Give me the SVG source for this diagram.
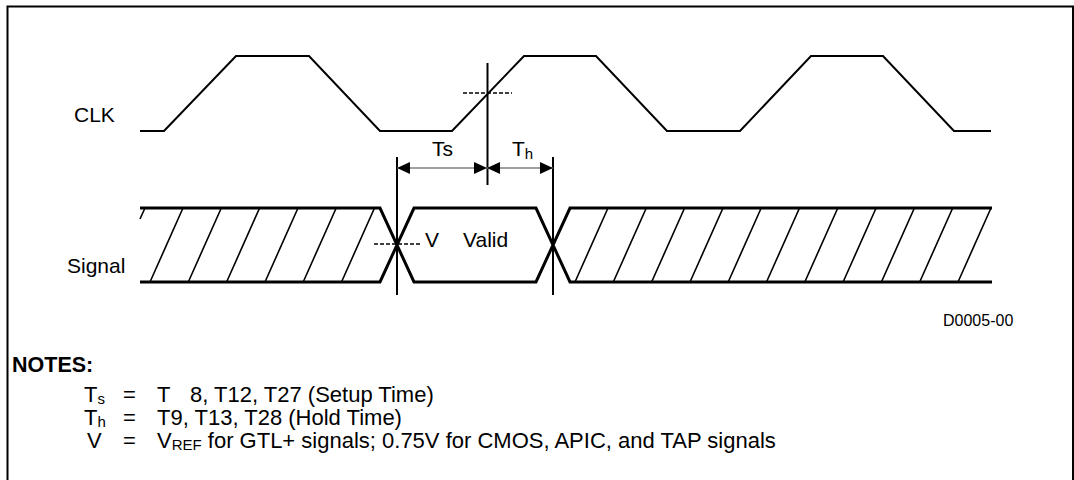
<svg xmlns="http://www.w3.org/2000/svg" width="1074" height="480" viewBox="0 0 1074 480">
<style>
text{font-family:"Liberation Sans",Arial,sans-serif;fill:#000}
.lbl{font-size:21px}
.note{font-size:22px}
.sub{font-size:15px}
.wave{fill:none;stroke:#000;stroke-width:2}
.bus{fill:none;stroke:#000;stroke-width:3}
.hatch{fill:none;stroke:#000;stroke-width:1.6}
.vl{stroke:#000;stroke-width:2}
.dash{stroke:#000;stroke-width:1.5;stroke-dasharray:4 2}
.dim{stroke:#7f7f7f;stroke-width:1.5}
</style>
<defs>
<marker id="ah" viewBox="0 0 13 12" refX="13" refY="6" markerWidth="13" markerHeight="12" markerUnits="userSpaceOnUse" orient="auto-start-reverse">
<path d="M0,0 L13,6 L0,12 Z" fill="#000"/>
</marker>
</defs>
<path d="M7.5,482 V6.5 H1073 V482" fill="none" stroke="#000" stroke-width="2"/>
<g id="clk">
<text class="lbl" x="74" y="122">CLK</text>
<path class="wave" d="M140,131 H164 L236,56 H309 L380,131 H452 L524,56 H596 L667,131 H740 L811,56 H883 L954,131 H991"/>
</g>
<g id="signal">
<text class="lbl" x="67" y="273">Signal</text>
<path class="bus" d="M140,208 H380 L414,282 H536 L570,208 H992 M140,282 H380 L414,208 H536 L570,282 H992"/>
<path class="hatch" d="M145,208 L140,219 M150,282 L183,208 M188.3,282 L221.3,208 M226.6,282 L259.6,208 M265,282 L298,208 M303.2,282 L336.2,208 M341.5,282 L374.5,208 M575,282 L608,208 M613.3,282 L646.3,208 M651.6,282 L684.6,208 M690,282 L723,208 M728.2,282 L761.2,208 M766.5,282 L799.5,208 M804.8,282 L837.8,208 M843.1,282 L876.1,208 M881.4,282 L914.4,208 M919.7,282 L952.7,208 M958,282 L991,208"/>
<text class="lbl" x="425" y="247">V</text>
<text class="lbl" x="463" y="247">Valid</text>
</g>
<g id="connectors">
<line class="vl" x1="487.5" y1="63" x2="487.5" y2="185"/>
<line class="vl" x1="397" y1="157" x2="397" y2="295"/>
<line class="vl" x1="553" y1="157" x2="553" y2="295"/>
<line class="dash" x1="463" y1="93" x2="512" y2="93"/>
<line class="dash" x1="374" y1="244" x2="420" y2="244"/>
<line class="dim" x1="397" y1="168" x2="487" y2="168" marker-start="url(#ah)" marker-end="url(#ah)"/>
<line class="dim" x1="487" y1="168" x2="553" y2="168" marker-start="url(#ah)" marker-end="url(#ah)"/>
</g>
<g id="labels">
<text class="lbl" x="432" y="156">Ts</text>
<text class="lbl" x="512" y="156">T<tspan class="sub" dy="3">h</tspan></text>
<text x="943" y="326" style="font-size:16px">D0005-00</text>
</g>
<g id="notes">
<text x="12" y="372" style="font-size:21.5px;font-weight:bold">NOTES:</text>
<text class="note" x="84" y="402">T<tspan class="sub" dy="2">s</tspan></text>
<text class="note" x="123" y="402">=</text>
<text class="note" x="157" y="402">T<tspan x="190">8, T12, T27 (Setup Time)</tspan></text>
<text class="note" x="84" y="425">T<tspan class="sub" dy="2">h</tspan></text>
<text class="note" x="123" y="425">=</text>
<text class="note" x="157" y="425">T9, T13, T28 (Hold Time)</text>
<text class="note" x="87" y="448">V</text>
<text class="note" x="123" y="448">=</text>
<text class="note" x="157" y="448">V<tspan class="sub" dy="2">REF</tspan><tspan dy="-2"> for GTL+ signals; 0.75V for CMOS, APIC, and TAP signals</tspan></text>
</g>
</svg>
